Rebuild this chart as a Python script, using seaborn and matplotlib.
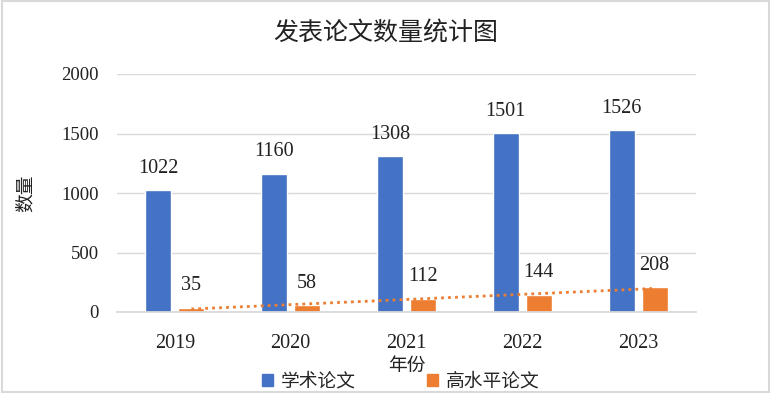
import numpy as np
import pandas as pd
import matplotlib
matplotlib.use("Agg")
import matplotlib.pyplot as plt
import seaborn as sns
from matplotlib.patches import Rectangle, Patch

years = ["2019", "2020", "2021", "2022", "2023"]
academic = [1022, 1160, 1308, 1501, 1526]
high_level = [35, 58, 112, 144, 208]
series_names = ["学术论文", "高水平论文"]
yticks = [0, 500, 1000, 1500, 2000]

sns.set_theme(style="white")
plt.rcParams['font.family'] = ['Liberation Serif', 'Noto Sans CJK SC', 'DejaVu Sans']
cjk = ['Noto Sans CJK SC', 'DejaVu Sans']

df = pd.DataFrame({
    "年份": years * 2,
    "数量": academic + high_level,
    "系列": [series_names[0]] * 5 + [series_names[1]] * 5,
})

fig = plt.figure(figsize=(7.71, 3.93), dpi=100)
ax = fig.add_axes([117/771, 1 - 312/393, (696-117)/771, (312-74)/393])

palette = {series_names[0]: "#4472C4", series_names[1]: "#ED7D31"}
sns.barplot(data=df, x="年份", y="数量", hue="系列", palette=palette,
            width=0.57, gap=0.21, ax=ax, legend=False, saturation=1)

ax.set_ylim(0, 2000)
ax.set_yticks(yticks)
ax.set_yticklabels([str(t) for t in yticks], fontsize=13.5, color="#222222")
ax.tick_params(axis='x', labelsize=14.5, colors="#222222", pad=16, length=0)
ax.tick_params(axis='y', length=0, pad=13)
ax.grid(axis='y', color="#D9D9D9", linewidth=1)
ax.set_axisbelow(True)
for s in ["top", "right", "left"]:
    ax.spines[s].set_visible(False)
ax.spines["bottom"].set_color("#D9D9D9")
ax.set_xlim(-0.5, 4.5)

# data labels
for cont in ax.containers:
    for bar in cont:
        h = bar.get_height()
        ax.annotate(f"{int(round(h))}", (bar.get_x() + bar.get_width()/2, h),
                    xytext=(0, 9), textcoords="offset points", ha="center",
                    va="bottom", fontsize=14.5, color="#222222")

# linear trendline for high-level series
orange_bars = ax.containers[1]
xs = np.array([b.get_x() + b.get_width()/2 for b in orange_bars])
coef = np.polyfit(np.arange(len(high_level)), np.array(high_level, dtype=float), 1)
fit = np.polyval(coef, np.arange(len(high_level)))
ax.plot([xs[0], xs[-1]], [fit[0], fit[-1]], linestyle=(0, (1, 1.5)),
        color="#ED7D31", linewidth=2)

ax.set_xlabel("年份", fontsize=13.5, family=cjk, color="#222222")
ax.xaxis.set_label_coords(0.5, -0.18)
ax.set_ylabel("数量", fontsize=13.5, family=cjk, color="#222222")
ax.yaxis.set_label_coords(-0.14, 0.5)

fig.suptitle("发表论文数量统计图", fontsize=18, family=cjk, y=1 - 33/393, va="center", color="#222222")

handles = [Patch(color=palette[n], label=n) for n in series_names]
fig.legend(handles=handles, loc="center", bbox_to_anchor=(0.52, 1 - 381/393), ncol=2,
           frameon=False, prop={'family': cjk, 'size': 13.5}, handlelength=0.6,
           handleheight=0.6, columnspacing=3.8, handletextpad=0.4)

fig.patches.append(Rectangle((0.002, 0.003), 0.996, 0.994, transform=fig.transFigure,
                             fill=False, edgecolor="#D9D9D9", linewidth=1.5))

fig.savefig("out.png", dpi=100)
